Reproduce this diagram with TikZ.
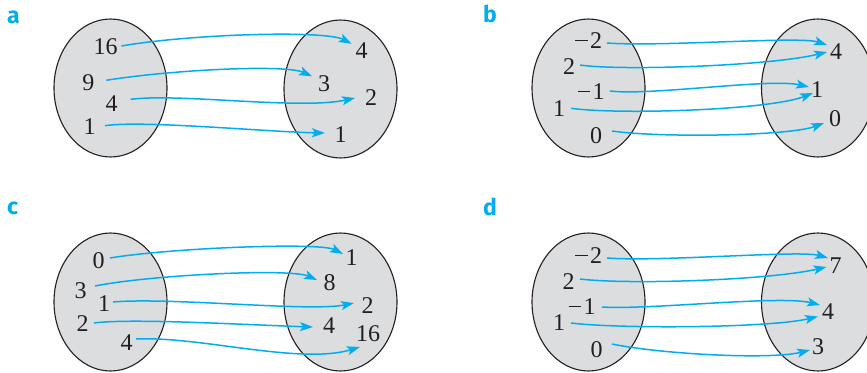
\documentclass[tikz,border=0pt]{standalone}
\usepackage{fontspec}
\setmainfont{Liberation Serif}
\newfontfamily\panelfont{Fira Sans}
\usepackage{xcolor}
\usetikzlibrary{arrows.meta}
\definecolor{mapblue}{HTML}{00AEEF}
\definecolor{setgray}{HTML}{DCDDDE}
\definecolor{inkblack}{HTML}{231F20}
\newcommand{\mi}{\rule[7.6pt]{12.5pt}{1.1pt}\kern2.5pt}

\begin{document}
\begin{tikzpicture}[x=1pt, y=-1pt,
  num/.style={font=\fontsize{24}{24}\selectfont, text=inkblack, inner sep=0pt},
  tag/.style={font=\panelfont\bfseries\fontsize{23}{23}\selectfont, text=mapblue, anchor=base west, inner sep=0pt},
  maparrow/.style={draw=mapblue, line width=1.5pt, -{Stealth[length=13pt, width=9pt, inset=3pt]}},
  setshape/.style={fill=setgray, draw=inkblack, line width=1.1pt}]
  \useasboundingbox (0,0) rectangle (867,372);
  \clip (0,0) rectangle (867,372);

%sets
  \foreach \cx/\cy in {110.5/88, 340.5/89, 588.5/88, 818/88, 110.5/302, 340.5/302, 588.5/302, 818/302}
    \draw[setshape] (\cx,\cy) ellipse [x radius=56.5, y radius=69];

%panel a
  \node[tag] (tagA) at (7,23.5) {a};
  \node[num] (aL16) at (105.5,47) {16};
  \node[num] (aL9) at (88.3,82.3) {9};
  \node[num] (aL4) at (111.7,103.3) {4};
  \node[num] (aL1) at (89.5,126.7) {1};
  \node[num] (aR4) at (361.7,50.8) {4};
  \node[num] (aR3) at (324,83.3) {3};
  \node[num] (aR2) at (371,98) {2};
  \node[num] (aR1) at (340.5,135) {1};
  \draw[maparrow] ([shift={(16,-1)}]aL16.center) .. controls (190,34) and (325,30) .. ([shift={(-10,-7)}]aR4.center);
  \draw[maparrow] ([shift={(18,-2)}]aL9.center) .. controls (170,70) and (285,64) .. ([shift={(-12,-7)}]aR3.center);
  \draw[maparrow] ([shift={(19,-4)}]aL4.center) .. controls (180,93) and (300,110) .. ([shift={(-16,0)}]aR2.center);
  \draw[maparrow] ([shift={(15.5,-1)}]aL1.center) .. controls (140,120) and (270,132) .. ([shift={(-15.5,-2)}]aR1.center);

%panel b
  \node[tag] (tagB) at (483,22) {b};
  \node[num] (bLm2) at (588.7,41) {\mi2};
  \node[num] (bL2) at (569,66.7) {2};
  \node[num] (bLm1) at (591,91.7) {\mi1};
  \node[num] (bL1) at (559,108.3) {1};
  \node[num] (bL0) at (596,135.3) {0};
  \node[num] (bR4) at (836,52) {4};
  \node[num] (bR1) at (817,90) {1};
  \node[num] (bR0) at (835,118.5) {0};
  \draw[maparrow] ([shift={(18.3,2)}]bLm2.center) .. controls (660,47) and (800,36) .. ([shift={(-9,-7)}]bR4.center);
  \draw[maparrow] ([shift={(11,-1.7)}]bL2.center) .. controls (620,71) and (770,66) .. ([shift={(-9,0)}]bR4.center);
  \draw[maparrow] ([shift={(19,-0.7)}]bLm1.center) .. controls (650,96) and (770,78) .. ([shift={(-8,-3)}]bR1.center);
  \draw[maparrow] ([shift={(12,0)}]bL1.center) .. controls (620,115) and (770,110) .. ([shift={(-4,3)}]bR1.center);
  \draw[maparrow] ([shift={(16,-4.3)}]bL0.center) .. controls (660,138) and (790,136) .. ([shift={(-11,4.5)}]bR0.center);

%panel c
  \node[tag] (tagC) at (7,214) {c};
  \node[num] (cL0) at (98.5,261) {0};
  \node[num] (cL3) at (80.5,290.5) {3};
  \node[num] (cL1) at (104,303.5) {1};
  \node[num] (cL2) at (82.5,324) {2};
  \node[num] (cL4) at (126.5,342.5) {4};
  \node[num] (cR1) at (351.5,257.5) {1};
  \node[num] (cR8) at (329.5,283) {8};
  \node[num] (cR2) at (367.5,305.5) {2};
  \node[num] (cR4) at (329,326) {4};
  \node[num] (cR16) at (368,334) {16};
  \draw[maparrow] ([shift={(11.5,-3)}]cL0.center) .. controls (170,248) and (320,242) .. ([shift={(-8.5,-3.5)}]cR1.center);
  \draw[maparrow] ([shift={(14.5,-4.5)}]cL3.center) .. controls (150,275) and (290,268) .. ([shift={(-12.5,-3)}]cR8.center);
  \draw[maparrow] ([shift={(9,-1.5)}]cL1.center) .. controls (170,297) and (310,312) .. ([shift={(-13.5,-2.5)}]cR2.center);
  \draw[maparrow] ([shift={(11.5,-1)}]cL2.center) .. controls (130,318) and (250,325) .. ([shift={(-16,1)}]cR4.center);
  \draw[maparrow] ([shift={(9.5,-3.5)}]cL4.center) .. controls (200,336) and (300,365) .. ([shift={(-8,13)}]cR16.center);

%panel d
  \node[tag] (tagD) at (483,215) {d};
  \node[num] (dLm2) at (588.5,256) {\mi2};
  \node[num] (dL2) at (568.5,282) {2};
  \node[num] (dLm1) at (582,306.5) {\mi1};
  \node[num] (dL1) at (559,322.5) {1};
  \node[num] (dL0) at (596.5,350) {0};
  \node[num] (dR7) at (835.5,265.5) {7};
  \node[num] (dR4) at (828,311.5) {4};
  \node[num] (dR3) at (818,346.5) {3};
  \draw[maparrow] ([shift={(18.5,2)}]dLm2.center) .. controls (660,262) and (800,250) .. ([shift={(-7.5,-7.5)}]dR7.center);
  \draw[maparrow] ([shift={(11.5,-3)}]dL2.center) .. controls (630,285) and (770,280) .. ([shift={(-9,1.5)}]dR7.center);
  \draw[maparrow] ([shift={(20,0.5)}]dLm1.center) .. controls (650,310) and (780,295) .. ([shift={(-8,-6.5)}]dR4.center);
  \draw[maparrow] ([shift={(12,0.5)}]dL1.center) .. controls (620,329) and (770,328) .. ([shift={(-10,5)}]dR4.center);
  \draw[maparrow] ([shift={(15.5,-6)}]dL0.center) .. controls (660,354) and (770,360) .. ([shift={(-8,3.5)}]dR3.center);
\end{tikzpicture}
\end{document}
